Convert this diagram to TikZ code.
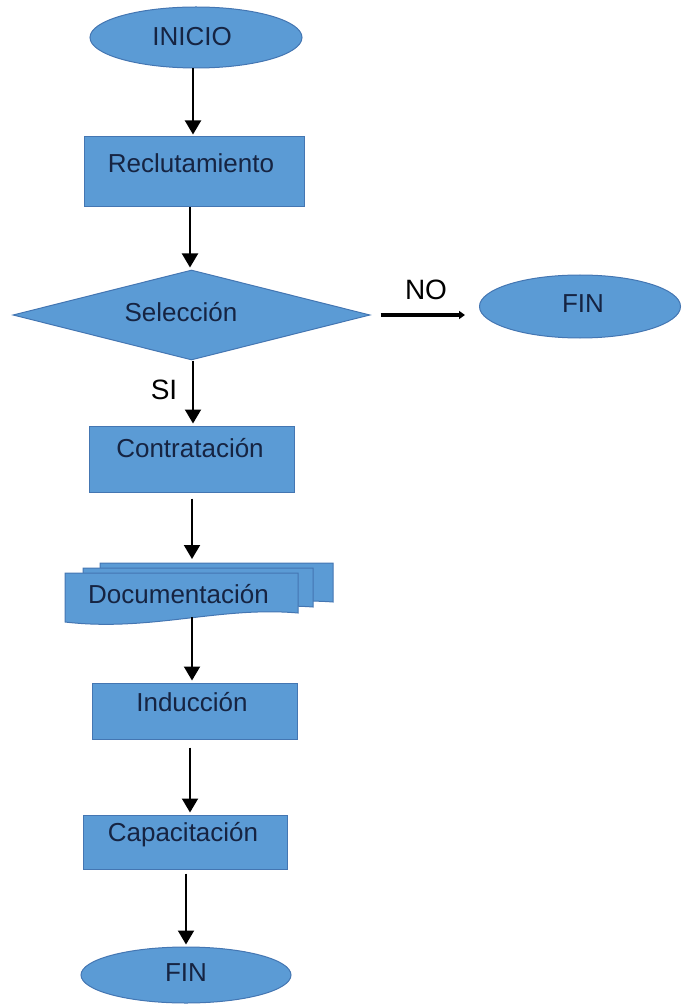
\documentclass[tikz,border=0pt]{standalone}
\usepackage{fontspec}
\setmainfont{Liberation Sans}
\usetikzlibrary{shapes.geometric,arrows.meta}

\definecolor{fillb}{RGB}{91,155,213}
\definecolor{bdr}{RGB}{68,118,178}
\definecolor{txtc}{RGB}{22,36,66}

\tikzset{
  shape base/.style={draw=bdr, fill=fillb, line width=0.5pt, inner sep=0pt},
  stepbox/.style={shape base, rectangle},
  term/.style={shape base, ellipse},
  decision/.style={shape base, diamond, aspect=4},
  txt/.style={text=txtc, font=\fontsize{13pt}{15pt}\selectfont, inner sep=0pt},
  lab/.style={text=black, font=\fontsize{14pt}{16pt}\selectfont, inner sep=0pt},
  arr/.style={draw=black, line width=1pt, -{Triangle[width=8pt,length=7pt]}, shorten >=1pt},
  noarr/.style={draw=black, line width=1.6pt, -{Triangle[width=4pt,length=3pt]}},
  docpage/.style={draw=bdr, fill=fillb, line width=0.5pt}
}

\begin{document}
\begin{tikzpicture}[x=0.5pt,y=-0.5pt]
\useasboundingbox (0,0) rectangle (681,1005);

% terminals, steps and decision
\node[term, minimum width=106pt, minimum height=30.5pt] (ini) at (196,37.5) {};
\node[txt] (ini-t) at (192,37) {INICIO};

\node[stepbox, minimum width=110pt, minimum height=35pt] (recl) at (194,172) {};
\node[txt] (recl-t) at (191,163) {Reclutamiento};

\node[decision, minimum width=178.5pt, minimum height=45pt] (sel) at (191.5,315) {};
\node[txt] (sel-t) at (181,312) {Selección};

\node[term, minimum width=100.5pt, minimum height=31.5pt] (finr) at (580,306.5) {};
\node[txt] (finr-t) at (583,303.5) {FIN};

\node[stepbox, minimum width=102.5pt, minimum height=33pt] (contr) at (191.5,459) {};
\node[txt] (contr-t) at (190,448.5) {Contratación};

% stacked documents, back to front
\path[docpage] (100,563) -- (333,563) -- (333,602)
  .. controls (255,596) and (185,622) .. (100,612) -- cycle;
\path[docpage] (83,568) -- (313,568) -- (313,607)
  .. controls (235,601) and (168,627) .. (83,617) -- cycle;
\path[docpage] (65,573) -- (298,573) -- (298,613)
  .. controls (220,606) and (150,632) .. (65,622) -- cycle;
\node[txt] (doc) at (178.5,594) {Documentación};
\coordinate (docin) at (192,561);
\coordinate (docout) at (192,617);

\node[stepbox, minimum width=102.5pt, minimum height=28pt] (induc) at (194.5,711) {};
\node[txt] (induc-t) at (192,702.5) {Inducción};

\node[stepbox, minimum width=102pt, minimum height=27pt] (cap) at (185,842) {};
\node[txt] (cap-t) at (183,835) {Capacitación};

\node[term, minimum width=105pt, minimum height=28pt] (finb) at (186,975) {};
\node[txt] (finb-t) at (186,973) {FIN};

% connectors
\draw[arr] ([xshift=-1.5pt]ini.south) -- ([xshift=-1.5pt]ini.south |- recl.north);
\draw[arr] ([xshift=-2pt]recl.south) -- ([xshift=-2pt]recl.south |- sel.north);
\draw[arr] ([xshift=0.75pt]sel.south) -- ([xshift=0.75pt]sel.south |- contr.north);
\draw[noarr] ([xshift=5pt]sel.east) -- ([xshift=-7pt]sel.east -| finr.west);
\draw[arr, shorten <=3pt] ([xshift=0.25pt]contr.south) -- (docin);
\draw[arr] (docout) -- (docout |- induc.north);
\draw[arr, shorten <=4pt] ([xshift=-2.25pt]induc.south) -- ([xshift=-2.25pt]induc.south |- cap.north);
\draw[arr, shorten <=2pt] ([xshift=0.5pt]cap.south) -- ([xshift=0.5pt]cap.south |- finb.north);

% branch labels
\node[lab] (no) at (426,290) {NO};
\node[lab] (si) at (164,390) {SI};
\end{tikzpicture}
\end{document}
